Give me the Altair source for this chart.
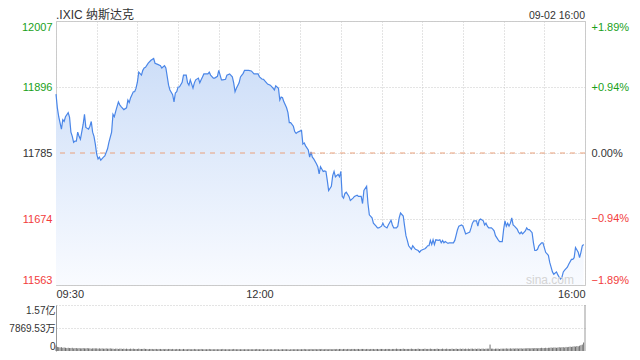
import altair as alt
import pandas as pd

# ---------------- data ----------------
minutes = [0, 1, 2, 4, 5, 6, 7, 9, 10, 11, 12, 13, 14, 15, 16, 17, 18, 20, 21, 22, 24, 25, 26, 27, 28, 29,
           30, 31, 32, 33, 35, 36, 38, 39, 41, 42, 43, 44, 46, 47, 48, 50, 52, 53, 54, 55, 57, 58, 59,
           60, 61, 63, 64, 65, 66, 68, 70, 72, 73, 75, 77, 78, 80, 81, 83, 84, 86, 87, 88, 89,
           90, 91, 93, 94, 96, 97, 98, 99, 101, 102, 103, 105, 106, 107, 108, 109, 112, 113, 114, 116, 117, 119,
           120, 122, 123, 125, 126, 128, 130, 131, 132, 133, 135, 136, 138, 139, 142, 144, 146, 149,
           150, 152, 153, 156, 158, 160, 161, 162, 164, 165, 166, 167, 168, 170, 171, 172, 173, 175, 176, 177, 178, 179,
           181, 182, 183, 184, 186, 187, 188, 189, 190, 192, 193, 194, 195, 197, 198, 199, 200, 201, 203, 204, 205, 206,
           208, 209, 210, 211, 212, 213, 214, 216, 217, 219, 220, 222, 223, 225, 226, 227, 229, 230, 231, 233, 234, 236,
           237, 238, 240, 241, 242, 244, 245, 247, 248, 249, 251, 252, 253, 254, 256, 257, 258, 259, 260, 262, 263, 264,
           265, 267, 268, 269, 271, 272, 273, 274, 275, 276, 277, 278, 279, 280, 282, 283, 284, 285, 286, 287, 289, 290,
           291, 293, 294, 295, 296, 297, 299, 300, 301, 302, 304, 305, 306, 307, 308, 310, 311, 312, 313, 315, 316, 317,
           318, 319, 321, 322, 323, 324, 326, 327, 329, 330, 331, 332, 333, 334, 335, 336, 337, 338, 340, 341, 342, 343,
           344, 346, 347, 348, 349, 351, 352, 353, 354, 355, 356, 358, 359, 360, 361, 363, 364, 365, 366, 367, 369, 370,
           371, 372, 373, 374, 375, 377, 378, 380, 381, 382, 383, 385, 386, 387, 388, 389]

prices = [11884, 11861, 11846, 11825, 11841, 11838, 11846, 11853, 11845, 11820, 11813, 11803, 11805, 11805, 11820, 11813, 11808, 11833, 11850, 11828, 11825, 11830, 11838, 11820, 11813, 11800,
          11783, 11775, 11778, 11773, 11778, 11780, 11792, 11803, 11820, 11850, 11846, 11855, 11871, 11866, 11863, 11858, 11861, 11874, 11870, 11878, 11888, 11888, 11894,
          11904, 11921, 11916, 11924, 11928, 11929, 11936, 11941, 11944, 11936, 11934, 11932, 11928, 11932, 11928, 11899, 11891, 11883, 11871, 11886, 11888,
          11896, 11896, 11904, 11916, 11916, 11903, 11899, 11908, 11894, 11903, 11908, 11911, 11903, 11908, 11913, 11918, 11918, 11921, 11916, 11911, 11911, 11914,
          11924, 11908, 11908, 11909, 11916, 11918, 11913, 11903, 11888, 11894, 11903, 11913, 11919, 11924, 11924, 11923, 11918, 11918,
          11913, 11909, 11909, 11901, 11899, 11894, 11891, 11898, 11894, 11874, 11879, 11878, 11871, 11861, 11853, 11836, 11836, 11830, 11821, 11818, 11820, 11821,
          11823, 11800, 11802, 11797, 11790, 11778, 11787, 11778, 11775, 11767, 11762, 11750, 11762, 11754, 11755, 11754, 11739, 11722, 11729, 11747, 11754, 11745,
          11749, 11745, 11754, 11712, 11709, 11717, 11719, 11712, 11705, 11709, 11712, 11714, 11712, 11712, 11700, 11722, 11729, 11700, 11681, 11676, 11667, 11662,
          11659, 11659, 11662, 11667, 11662, 11659, 11664, 11672, 11664, 11659, 11659, 11662, 11676, 11684, 11679, 11662, 11646, 11638, 11629, 11623, 11629, 11626,
          11623, 11621, 11618, 11621, 11623, 11624, 11626, 11629, 11629, 11638, 11631, 11639, 11631, 11639, 11638, 11639, 11634, 11638, 11634, 11636, 11633, 11634,
          11634, 11634, 11638, 11647, 11656, 11662, 11664, 11662, 11656, 11649, 11651, 11652, 11659, 11667, 11671, 11671, 11662, 11672, 11674, 11671, 11664, 11667,
          11662, 11659, 11659, 11657, 11654, 11646, 11639, 11636, 11636, 11656, 11671, 11662, 11667, 11662, 11667, 11676, 11664, 11662, 11657, 11652, 11649, 11652,
          11649, 11654, 11659, 11656, 11656, 11651, 11634, 11621, 11621, 11623, 11629, 11634, 11634, 11626, 11618, 11613, 11601, 11593, 11585, 11581, 11585, 11580,
          11576, 11573, 11576, 11585, 11588, 11593, 11598, 11606, 11606, 11609, 11626, 11618, 11609, 11618, 11629, 11631]

# volume per minute, in millions of shares (09:30 .. 15:59)
volume = [
    19, 14, 13, 12, 13, 11, 12, 11, 10, 11, 10, 10, 11, 9, 10, 10, 9, 10, 9, 9, 10, 9, 9, 10, 9, 9, 8, 9, 9, 9,
    9, 8, 9, 8, 9, 8, 8, 9, 8, 8, 9, 8, 8, 7, 8, 8, 7, 8, 8, 7, 8, 7, 8, 7, 7, 8, 7, 8, 7, 7,
    7, 8, 7, 7, 7, 8, 7, 7, 6, 7, 7, 7, 6, 7, 7, 6, 7, 7, 6, 7, 6, 7, 6, 7, 7, 6, 7, 6, 6, 7,
    6, 7, 6, 6, 7, 6, 6, 6, 7, 6, 6, 6, 7, 6, 6, 6, 6, 7, 6, 6, 6, 6, 6, 7, 6, 6, 6, 6, 6, 6,
    6, 6, 6, 7, 6, 6, 6, 6, 6, 6, 6, 7, 6, 6, 6, 6, 6, 6, 6, 6, 6, 6, 6, 6, 6, 6, 6, 6, 7, 6,
    6, 6, 6, 6, 6, 5, 6, 6, 6, 6, 5, 6, 6, 6, 6, 5, 6, 6, 6, 6, 6, 6, 5, 6, 6, 6, 6, 6, 6, 6,
    6, 6, 6, 7, 6, 6, 6, 6, 7, 6, 6, 7, 6, 6, 7, 6, 7, 6, 6, 7, 6, 6, 7, 6, 6, 7, 6, 7, 6, 7,
    7, 6, 7, 7, 6, 7, 7, 6, 7, 7, 7, 6, 7, 7, 6, 7, 7, 7, 6, 7, 7, 6, 7, 7, 7, 6, 7, 7, 6, 7,
    7, 7, 6, 7, 7, 7, 7, 6, 7, 7, 7, 8, 7, 7, 7, 7, 8, 7, 7, 7, 7, 7, 8, 7, 7, 7, 7, 8, 7, 7,
    7, 7, 8, 7, 7, 7, 8, 7, 7, 7, 7, 8, 7, 7, 7, 8, 7, 7, 8, 7, 7, 7, 8, 7, 7, 8, 7, 7, 8, 7,
    8, 7, 8, 7, 8, 7, 8, 8, 7, 8, 7, 8, 8, 7, 8, 8, 7, 8, 8, 8, 22, 8, 8, 7, 8, 8, 8, 7, 8, 8,
    8, 8, 9, 8, 8, 9, 8, 9, 8, 9, 9, 8, 9, 9, 8, 9, 9, 9, 10, 9, 9, 10, 9, 10, 10, 9, 10, 10, 11, 10,
    10, 11, 10, 11, 11, 12, 11, 12, 12, 11, 12, 13, 12, 13, 13, 12, 14, 13, 14, 15, 14, 15, 16, 15, 17, 16, 18, 20, 22, 29,
]

price_ticks = [11563, 11674, 11785, 11896, 12007]
pct_ticks = [-1.89, -0.94, 0.0, 0.94, 1.89]
vol_ticks = [0, 78.6953, 157.3906]
prev_close = 11785
title_text = ".IXIC 纳斯达克"
date_text = "09-02 16:00"

# ---------------- chart ----------------
W, H, VH = 529, 264, 46
FONT = "Liberation Sans, Arial, Noto Sans CJK SC"
GREEN, RED, DARK = "#1a9f1a", "#f23c3c", "#333333"
GRID = "#c8c8c8"

df = pd.DataFrame({"minute": minutes, "price": prices})
vdf = pd.DataFrame({"minute": list(range(len(volume))), "vol": volume})

xscale = alt.Scale(domain=[0, 390], nice=False, zero=False)
yscale = alt.Scale(domain=[price_ticks[0], price_ticks[-1]], nice=False, zero=False)

x_axis = alt.Axis(
    title=None, values=list(range(0, 391, 30)), ticks=False, domain=False,
    grid=True, gridColor=GRID, gridDash=[1, 2],
    labelExpr="datum.value == 0 ? '09:30' : (datum.value == 150 ? '12:00' : (datum.value == 390 ? '16:00' : ''))",
    labelFlush=True, labelPadding=3, labelFontSize=11, labelColor=DARK, labelFont=FONT,
)
y_axis = alt.Axis(
    title=None, values=price_ticks, format="d", ticks=False, domain=False,
    grid=True, gridColor=GRID, gridDash=[1, 2], labelFlush=True, labelPadding=4,
    labelFontSize=11, labelFont=FONT,
    labelColor=alt.ExprRef(expr=f"datum.value > {prev_close} ? '{GREEN}' : (datum.value < {prev_close} ? '{RED}' : '{DARK}')"),
)

base = alt.Chart(df)
grad = alt.Gradient(
    gradient="linear",
    stops=[alt.GradientStop(color="#cddef8", offset=0), alt.GradientStop(color="#f9fbff", offset=1)],
    x1=0, x2=0, y1=0, y2=1,
)
area = base.mark_area(color=grad).encode(
    x=alt.X("minute:Q", scale=xscale, axis=x_axis),
    y=alt.Y("price:Q", scale=yscale, axis=y_axis),
    y2=alt.datum(price_ticks[0]),
)
line = base.mark_line(color="#4a86e8", strokeWidth=1.2).encode(
    x=alt.X("minute:Q", scale=xscale),
    y=alt.Y("price:Q", scale=yscale),
)
prev_rule = alt.Chart(pd.DataFrame({"p": [prev_close]})).mark_rule(
    color="#e9a07a", strokeDash=[5, 5], strokeWidth=1
).encode(y=alt.Y("p:Q", scale=yscale))

title_mark = alt.Chart(pd.DataFrame({"t": [title_text]})).mark_text(
    align="left", baseline="alphabetic", fontSize=12, font=FONT, color=DARK
).encode(text="t:N", x=alt.value(0), y=alt.value(-2))
date_mark = alt.Chart(pd.DataFrame({"t": [date_text]})).mark_text(
    align="right", baseline="alphabetic", fontSize=10.5, font=FONT, color=DARK
).encode(text="t:N", x=alt.value(W), y=alt.value(-2))
wm_mark = alt.Chart(pd.DataFrame({"t": ["sina.com"]})).mark_text(
    align="right", baseline="bottom", fontSize=12, font=FONT, color="#d4d4d4"
).encode(text="t:N", x=alt.value(W - 11), y=alt.value(H + 2))

pct_layer = alt.Chart(pd.DataFrame({"pct": pct_ticks})).mark_point(opacity=0).encode(
    y=alt.Y(
        "pct:Q",
        scale=alt.Scale(domain=[pct_ticks[0], pct_ticks[-1]], nice=False, zero=False),
        axis=alt.Axis(
            title=None, orient="right", values=pct_ticks, ticks=False, domain=False, grid=False,
            labelFlush=True, labelPadding=6, labelFontSize=11, labelFont=FONT,
            labelExpr="(datum.value > 0 ? '+' : '') + format(datum.value, '.2f') + '%'",
            labelColor=alt.ExprRef(expr=f"datum.value > 0 ? '{GREEN}' : (datum.value < 0 ? '{RED}' : '{DARK}')"),
        ),
    )
)

price_group = alt.layer(area, line, prev_rule, wm_mark, title_mark, date_mark)
main = alt.layer(price_group, pct_layer).resolve_scale(y="independent").properties(
    width=W, height=H, view=alt.ViewBackground(stroke="#cccccc")
)

vol_rules = alt.Chart(vdf).mark_rule(color="#6e6e6e", strokeWidth=1).encode(
    x=alt.X("minute:Q", scale=xscale, axis=None),
    y=alt.Y(
        "vol:Q",
        scale=alt.Scale(domain=[0, vol_ticks[-1]], nice=False, zero=True),
        axis=alt.Axis(
            title=None, values=vol_ticks, ticks=False, domain=True, domainColor="#999999",
            grid=True, gridColor=GRID, gridDash=[1, 2],
            gridOpacity=alt.ExprRef(expr="datum.value == 0 ? 0 : 1"),
            labelFlush=True, labelPadding=1, labelFontSize=10, labelFont=FONT, labelColor=DARK,
            labelExpr="datum.value == 0 ? '0' : (datum.value > 100 ? '1.57亿' : '7869.53万')",
        ),
    ),
    y2=alt.datum(0),
)
vol_right = alt.Chart(pd.DataFrame({"a": [0]})).mark_rule(color="#999999").encode(
    x=alt.value(W), y=alt.value(0), y2=alt.value(VH)
)
vol = alt.layer(vol_rules, vol_right).properties(
    width=W, height=VH, view=alt.ViewBackground(stroke="transparent")
)

chart = alt.vconcat(main, vol, spacing=4).configure(
    padding={"left": 0, "top": 0, "right": 0, "bottom": 0}
).configure_view(strokeWidth=1)

chart.save("out.html", embed_options={"renderer": "svg", "actions": False})
